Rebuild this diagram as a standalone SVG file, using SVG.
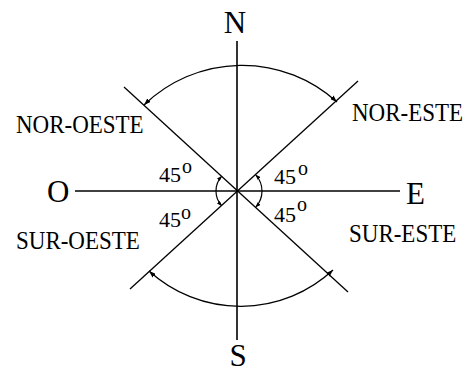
<svg xmlns="http://www.w3.org/2000/svg" width="467" height="372" viewBox="0 0 467 372">
<style>
.ax{stroke:#000;stroke-width:1.6;fill:none}
.dg{stroke:#000;stroke-width:1.3;fill:none}
.arc{stroke:#000;stroke-width:1.3;fill:none;marker-start:url(#ah);marker-end:url(#ah)}
.sarc{stroke:#000;stroke-width:1.2;fill:none;marker-start:url(#sh);marker-end:url(#sh)}
.big{font-family:"Liberation Serif","Times New Roman",serif;font-size:31px;fill:#000}
.lbl{font-family:"Liberation Serif","Times New Roman",serif;font-size:23px;fill:#000}
.deg{font-family:"Liberation Serif","Times New Roman",serif;font-size:22px;fill:#000}
.sup{font-family:"Liberation Serif","Times New Roman",serif;font-size:20px;fill:#000}
</style>
<defs>
<marker id="ah" viewBox="0 0 7 5" refX="7" refY="2.5" markerWidth="7" markerHeight="5" markerUnits="userSpaceOnUse" orient="auto-start-reverse"><path d="M0,0 L7,2.5 L0,5 z" fill="#000"/></marker>
<marker id="sh" viewBox="0 0 5 4" refX="5" refY="2" markerWidth="5" markerHeight="4" markerUnits="userSpaceOnUse" orient="auto-start-reverse"><path d="M0,0 L5,2 L0,4 z" fill="#000"/></marker>
</defs>
<rect width="467" height="372" fill="#fff"/>
<g id="connectors">
<line class="ax" x1="237" y1="41" x2="237" y2="340"/>
<line class="ax" x1="75" y1="191" x2="400" y2="191"/>
<line class="dg" x1="124" y1="87" x2="348" y2="292"/>
<line class="dg" x1="358" y1="81" x2="130" y2="289"/>
<path class="arc" d="M144,105 A141,141 0 0 1 337,102"/>
<path class="arc" d="M149,271 A136,136 0 0 0 333,270"/>
<path class="sarc" d="M221.8,176.1 A22,22 0 0 0 221.8,205.9"/>
<path class="sarc" d="M255.7,174.8 A24,24 0 0 1 255.7,207.2"/>
</g>
<g id="N"><text class="big" x="235" y="33" text-anchor="middle">N</text></g>
<g id="S"><text class="big" x="238" y="366" text-anchor="middle">S</text></g>
<g id="O"><text class="big" x="47" y="202">O</text></g>
<g id="E"><text class="big" x="406" y="204">E</text></g>
<g id="NO"><text class="lbl" transform="translate(16,133) scale(1,1.1)">NOR-OESTE</text></g>
<g id="NE"><text class="lbl" transform="translate(352,121) scale(1,1.1)">NOR-ESTE</text></g>
<g id="SO"><text class="lbl" transform="translate(16,249) scale(1,1.1)">SUR-OESTE</text></g>
<g id="SE"><text class="lbl" transform="translate(349,242) scale(1,1.1)">SUR-ESTE</text></g>
<g id="a1"><text class="deg" x="159" y="182">45</text><text class="sup" x="182" y="173">o</text></g>
<g id="a2"><text class="deg" x="159" y="227">45</text><text class="sup" x="181" y="219">o</text></g>
<g id="a3"><text class="deg" x="274" y="184">45</text><text class="sup" x="298" y="175">o</text></g>
<g id="a4"><text class="deg" x="274" y="222">45</text><text class="sup" x="297" y="211">o</text></g>
</svg>
